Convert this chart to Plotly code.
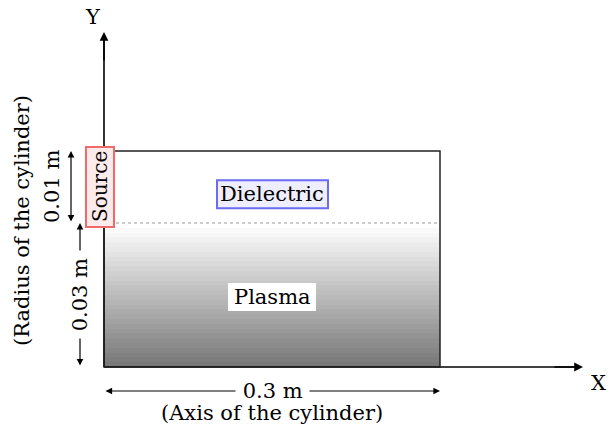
import numpy as np
import plotly.graph_objects as go

# ---- data (dimensions of the schematic) ----
cyl_length_m = 0.3                      # axis of the cylinder
layer_names = ["Plasma", "Dielectric"]  # bottom to top
layer_thickness_m = [0.03, 0.01]
layer_draw_height = [2, 1]              # schematic (not to scale) drawn heights
dim_labels = ["0.3 m", "0.03 m", "0.01 m"]
axis_names = ["X", "Y"]
axis_captions = ["(Axis of the cylinder)", "(Radius of the cylinder)"]
source_label = "Source"

FONT = "DejaVu Serif"
FS = 21

L = cyl_length_m
h_pl, h_di = layer_draw_height
H = h_pl + h_di

# pixel scale helpers (schematic)
sx = 1120.0   # px per metre along axis
sy = 72.0     # px per drawn unit

fig = go.Figure()

# plasma gradient
nb = 30
yedges = np.linspace(0, h_pl, nb + 1)
zvals = np.arange(nb).reshape(nb, 1)
fig.add_trace(go.Heatmap(
    x=[0, L], y=yedges, z=zvals,
    colorscale=[[0, "#787878"], [1, "#ffffff"]],
    showscale=False, hoverinfo="skip", zsmooth=False))

x_end = 479 / sx
y_end = 335 / sy

shapes = []
# axis lines (box drawn later covers the Y axis)
shapes.append(dict(type="line", x0=0, x1=x_end - 6 / sx, y0=0, y1=0,
                   line=dict(color="black", width=1.6), layer="above"))
shapes.append(dict(type="line", x0=0, x1=0, y0=0, y1=y_end - 6 / sy,
                   line=dict(color="black", width=1.6), layer="above"))
# outer rectangle
shapes.append(dict(type="rect", x0=0, x1=L, y0=0, y1=H,
                   line=dict(color="#222222", width=1.5), layer="above"))
# dotted interface
shapes.append(dict(type="line", x0=0, x1=L, y0=h_pl, y1=h_pl,
                   line=dict(color="#9a9a9a", width=1, dash="dot"), layer="above"))
# source box
shapes.append(dict(type="rect", x0=-18 / sx, x1=10 / sx, y0=h_pl - 4 / sy, y1=H + 4 / sy,
                   line=dict(color="#f06a6a", width=2), fillcolor="#fdeaea", layer="above"))
# dielectric label box
dcy = h_pl + 0.4 * h_di
shapes.append(dict(type="rect", x0=L / 2 - 55 / sx, x1=L / 2 + 56 / sx,
                   y0=dcy - 14 / sy, y1=dcy + 14 / sy,
                   line=dict(color="#6b6bf5", width=2), fillcolor="#eeeeff", layer="above"))
# plasma label box
pcy = h_pl / 2 - 2 / sy
shapes.append(dict(type="rect", x0=L / 2 - 44 / sx, x1=L / 2 + 44 / sx,
                   y0=pcy - 14 / sy, y1=pcy + 14 / sy,
                   line=dict(color="white", width=0), fillcolor="white", layer="above"))

ann = []
def arrow(x0, y0, x1, y1, both=False, width=1.2):
    d = dict(x=x1, y=y1, ax=x0, ay=y0, xref="x", yref="y", axref="x", ayref="y",
             text="", showarrow=True, arrowhead=2, arrowsize=1.1, arrowwidth=width,
             arrowcolor="black", standoff=0, startstandoff=0)
    if both:
        d.update(arrowside="end+start", startarrowhead=2, startarrowsize=1.1)
    ann.append(d)

def text(x, y, t, angle=0, bg=None, pad=1, size=FS):
    d = dict(x=x, y=y, xref="x", yref="y", text=t, showarrow=False, textangle=angle,
             font=dict(family=FONT, size=size, color="black"), borderpad=pad)
    if bg:
        d["bgcolor"] = bg
    ann.append(d)

NB = "\u00a0"
# axis arrow heads
arrow(x_end - 30 / sx, 0, x_end, 0, width=1.6)
arrow(0, y_end - 30 / sy, 0, y_end, width=1.6)
text(494 / sx, -16 / sy, axis_names[0])
text(-11 / sx, 350 / sy, axis_names[1])

# labels
text(L / 2, pcy, layer_names[0])
text(L / 2, dcy, layer_names[1])
text(-4 / sx, h_pl + h_di / 2, source_label, angle=-90, size=FS - 1)

# dimension: length
yd = -24 / sy
arrow(0, yd, L, yd, both=True)
text(L / 2, yd, NB + dim_labels[0] + NB, bg="white", pad=0)
text(L / 2, -46 / sy, axis_captions[0], pad=0)

# dimension: plasma thickness
xd = -24 / sx
arrow(xd, 0, xd, h_pl, both=True)
text(xd, h_pl / 2, NB + dim_labels[1] + NB, angle=-90, bg="white", pad=0)

# dimension: dielectric thickness
xd2 = -33 / sx
arrow(xd2, h_pl, xd2, H, both=True)
text(-52 / sx, h_pl + h_di / 2, dim_labels[2], angle=-90)

# radius caption
text(-82 / sx, h_pl + 2 / sy, axis_captions[1], angle=-90)

W, Hpx = 611, 428
ox, oy = 104, 367
fig.update_layout(
    width=W, height=Hpx, margin=dict(l=0, r=0, t=0, b=0),
    paper_bgcolor="white", plot_bgcolor="white",
    xaxis=dict(range=[-ox / sx, (W - ox) / sx], visible=False, fixedrange=True),
    yaxis=dict(range=[-(Hpx - oy) / sy, oy / sy], visible=False, fixedrange=True),
    shapes=shapes, annotations=ann, showlegend=False,
)
fig.write_html("out.html", config={"displayModeBar": False},
               post_script="document.body.style.margin='0px';document.body.style.overflow='hidden';")
